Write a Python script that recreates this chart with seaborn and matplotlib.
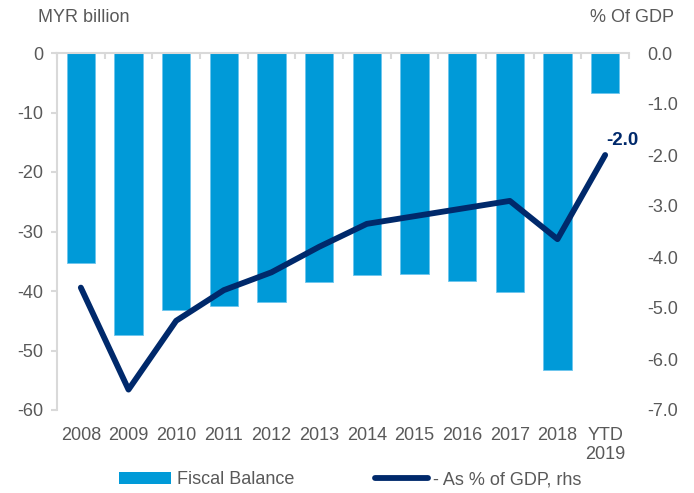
import numpy as np
import pandas as pd
import matplotlib
matplotlib.use("Agg")
import matplotlib.pyplot as plt
from matplotlib.patches import Patch
from matplotlib.lines import Line2D
import seaborn as sns

# Malaysia federal fiscal balance
years = ["2008", "2009", "2010", "2011", "2012", "2013", "2014", "2015",
         "2016", "2017", "2018", "YTD\n2019"]
balance_myr_bn = [-35.3, -47.4, -43.2, -42.5, -41.8, -38.5, -37.3, -37.1,
                  -38.3, -40.2, -53.3, -6.8]
balance_pct_gdp = [-4.6, -6.6, -5.25, -4.65, -4.3, -3.8, -3.35, -3.2,
                   -3.05, -2.9, -3.65, -2.0]
left_ticks = [0, -10, -20, -30, -40, -50, -60]
right_ticks = [0.0, -1.0, -2.0, -3.0, -4.0, -5.0, -6.0, -7.0]

BAR = "#009AD8"
LINE = "#00296B"
GREY = "#595959"
SPINE = "#D9D9D9"

sns.set_theme(style="white")
plt.rcParams["font.family"] = ["Liberation Sans", "DejaVu Sans"]
plt.rcParams["font.size"] = 13

df = pd.DataFrame({"year": years, "balance": balance_myr_bn,
                   "pct": balance_pct_gdp, "pos": np.arange(len(years))})

W, H = 694, 493
fig = plt.figure(figsize=(W / 100, H / 100), dpi=100)
ax = fig.add_axes([57 / W, 1 - 410 / H, 572 / W, 357 / H])

sns.barplot(data=df, x="year", y="balance", color=BAR, saturation=1,
            width=0.6, edgecolor="#6CC6EE", linewidth=0.6, ax=ax)
ax.set_xlim(-0.5, len(years) - 0.5)
ax.set_ylim(-60, 0)
ax.set_yticks(left_ticks)
ax.set_yticklabels([str(t) for t in left_ticks])
ax.set_xlabel("")
ax.set_ylabel("")

for s in ["bottom", "right"]:
    ax.spines[s].set_visible(False)
for s in ["left", "top"]:
    ax.spines[s].set_color(SPINE)
    ax.spines[s].set_linewidth(1.5)

ax.tick_params(axis="y", which="major", left=True, length=4, width=1.5,
               color=SPINE, pad=6, labelsize=13, labelcolor=GREY)
ax.tick_params(axis="x", which="major", bottom=False, top=False, length=0,
               pad=12, labelsize=13, labelcolor=GREY)
ax.set_xticks(np.arange(-0.5, len(years), 1.0), minor=True)
ax.tick_params(axis="x", which="minor", bottom=False, top=True,
               direction="in", length=4, width=1.5, color=SPINE)

ax2 = ax.twinx()
sns.lineplot(data=df, x="pos", y="pct", color=LINE, linewidth=4.2,
             ax=ax2, solid_capstyle="round", solid_joinstyle="round")
ax2.set_ylim(-7, 0)
ax2.set_yticks(right_ticks)
ax2.set_yticklabels([f"{t:.1f}" for t in right_ticks])
ax2.set_xlabel("")
ax2.set_ylabel("")
for s in ax2.spines.values():
    s.set_visible(False)
ax2.tick_params(axis="y", right=True, length=0, pad=13, labelsize=13,
                labelcolor=GREY)

last = len(years) - 1
ax2.annotate(f"{balance_pct_gdp[last]:.1f}", xy=(last, balance_pct_gdp[last]),
             xytext=(1, 4), textcoords="offset points", ha="left",
             va="bottom", fontsize=13.5, fontweight="bold", color=LINE)

fig.text(38 / W, 1 - 17 / H, "MYR billion", ha="left", va="center",
         fontsize=13, color=GREY)
fig.text(674 / W, 1 - 17 / H, "% Of GDP", ha="right", va="center",
         fontsize=13, color=GREY)

handles = [Patch(facecolor=BAR, edgecolor="none"),
           Line2D([0], [0], color=LINE, linewidth=4.2, solid_capstyle="round")]
fig.legend(handles, ["Fiscal Balance", "- As % of GDP, rhs"], ncol=2,
           loc="center left", bbox_to_anchor=(119 / W, 1 - 480 / H),
           frameon=False, fontsize=13, labelcolor=GREY, handlelength=2.9,
           handleheight=0.6, handletextpad=0.3, columnspacing=4.5,
           borderpad=0, borderaxespad=0)

fig.savefig("out.png", dpi=100)
